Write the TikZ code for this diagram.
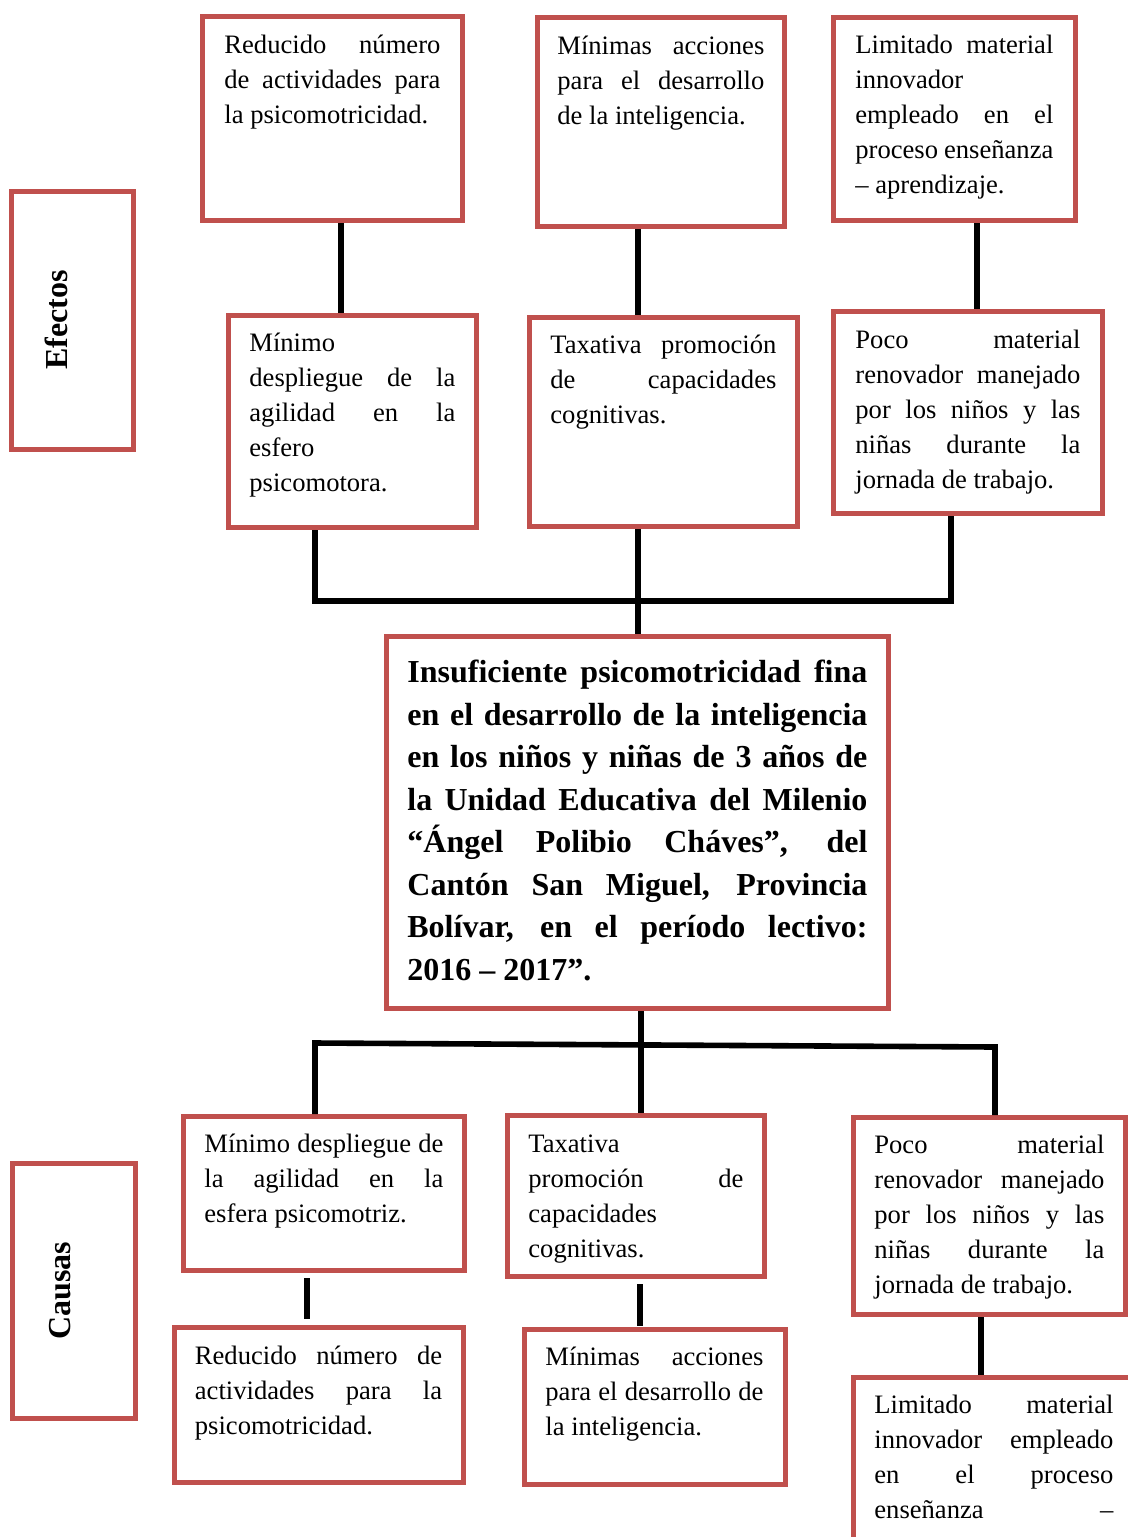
\documentclass[tikz,border=0pt]{standalone}
\usepackage{fontspec}
\setmainfont{Liberation Serif}
\definecolor{boxred}{HTML}{C0504D}
\newcommand\JL[1]{\hbox to\linewidth{#1}}
\newcommand\NL[1]{\hbox to\linewidth{#1\hfil}}
\newcommand\bodyfont{\fontsize{13.3}{17.5}\selectfont}
\newcommand\bigfont{\fontsize{16}{21.25}\selectfont\bfseries}
\begin{document}
\begin{tikzpicture}[x=0.5pt,y=-0.5pt,
  box/.style={draw=boxred, line width=2.5pt, inner sep=0pt, outer sep=0pt, anchor=north west},
  txt/.style={inner sep=0pt, anchor=base west, font=\bodyfont},
  bigtxt/.style={inner sep=0pt, anchor=base west, font=\bigfont},
  sidelabel/.style={inner sep=0pt, anchor=base, rotate=90, font=\bigfont},
  conn/.style={line width=2.8pt, black, shorten <=1.25pt, shorten >=1.25pt}]
\useasboundingbox (0,0) rectangle (1128,1537);
\clip (0,0) rectangle (1128,1537);

% side boxes
\node[box, minimum width=61pt, minimum height=129pt] (L1) at (11.5,191.5) {};
\node[sidelabel] (L1t) at (68,320) {Efectos};
\node[box, minimum width=61.5pt, minimum height=127.5pt] (L2) at (12.5,1163.5) {};
\node[sidelabel] (L2t) at (70,1290.5) {Causas};

% effects row 1
\node[box, minimum width=130pt, minimum height=102pt] (E1) at (202.5,16.5) {};
\node[txt] (E1t) at (224,53.5) {\parbox[t]{108pt}{\JL{Reducido número}\JL{de actividades para}\NL{la psicomotricidad.}}};
\node[box, minimum width=123.5pt, minimum height=104.5pt] (E2) at (537.5,17.5) {};
\node[txt] (E2t) at (557,54) {\parbox[t]{103.5pt}{\JL{Mínimas acciones}\JL{para el desarrollo}\NL{de la inteligencia.}}};
\node[box, minimum width=121pt, minimum height=101.5pt] (E3) at (833.5,17.5) {};
\node[txt] (E3t) at (855,53.5) {\parbox[t]{99pt}{\JL{Limitado material}\NL{innovador}\JL{empleado en el}\JL{proceso enseñanza}\NL{– aprendizaje.}}};

% effects row 2
\node[box, minimum width=124pt, minimum height=106pt] (E4) at (228.5,315.5) {};
\node[txt] (E4t) at (249,351) {\parbox[t]{103pt}{\NL{Mínimo}\JL{despliegue de la}\JL{agilidad en la}\NL{esfero}\NL{psicomotora.}}};
\node[box, minimum width=134pt, minimum height=104.5pt] (E5) at (529.5,317.5) {};
\node[txt] (E5t) at (550,353) {\parbox[t]{113pt}{\JL{Taxativa promoción}\JL{de capacidades}\NL{cognitivas.}}};
\node[box, minimum width=134.5pt, minimum height=101pt] (E6) at (833.5,311.5) {};
\node[txt] (E6t) at (855,348) {\parbox[t]{112.5pt}{\JL{Poco material}\JL{renovador manejado}\JL{por los niños y las}\JL{niñas durante la}\NL{jornada de trabajo.}}};

% central problem
\node[box, minimum width=251pt, minimum height=186pt] (C) at (386.5,636.5) {};
\node[bigtxt] (Ct) at (407,682.6) {\parbox[t]{230pt}{\JL{Insuficiente psicomotricidad fina}\JL{en el desarrollo de la inteligencia}\JL{en los niños y niñas de 3 años de}\JL{la Unidad Educativa del Milenio}\JL{“Ángel Polibio Cháves”, del}\JL{Cantón San Miguel, Provincia}\JL{Bolívar, en el período lectivo:}\NL{2016 – 2017”.}}};

% causes row 1
\node[box, minimum width=140.5pt, minimum height=77pt] (K1) at (183.5,1116.5) {};
\node[txt] (K1t) at (204,1152) {\parbox[t]{119.5pt}{\JL{Mínimo despliegue de}\JL{la agilidad en la}\NL{esfera psicomotriz.}}};
\node[box, minimum width=128.5pt, minimum height=80.5pt] (K3) at (507.5,1115.5) {};
\node[txt] (K3t) at (528,1152) {\parbox[t]{107.5pt}{\NL{Taxativa}\JL{promoción de}\NL{capacidades}\NL{cognitivas.}}};
\node[box, minimum width=136pt, minimum height=98.5pt] (K5) at (853.5,1117.5) {};
\node[txt] (K5t) at (874,1153.3) {\parbox[t]{115pt}{\JL{Poco material}\JL{renovador manejado}\JL{por los niños y las}\JL{niñas durante la}\NL{jornada de trabajo.}}};

% causes row 2
\node[box, minimum width=144.5pt, minimum height=77.5pt] (K2) at (174.5,1327.5) {};
\node[txt] (K2t) at (194.5,1364) {\parbox[t]{123.6pt}{\JL{Reducido número de}\JL{actividades para la}\NL{psicomotricidad.}}};
\node[box, minimum width=130.5pt, minimum height=77.5pt] (K4) at (524.5,1329.5) {};
\node[txt] (K4t) at (545,1365) {\parbox[t]{109pt}{\JL{Mínimas acciones}\JL{para el desarrollo de}\NL{la inteligencia.}}};
\node[box, minimum width=141pt, minimum height=110pt] (K6) at (853.5,1377.5) {};
\node[txt] (K6t) at (874,1413.3) {\parbox[t]{119.5pt}{\JL{Limitado material}\JL{innovador empleado}\JL{en el proceso}\JL{enseñanza –}}};

% connector guide coordinates
\coordinate (a1) at (341,0);
\coordinate (a2) at (638,0);
\coordinate (a3) at (977,0);
\coordinate (b1) at (315,601);
\coordinate (b2) at (638,601);
\coordinate (b3) at (951,601);
\coordinate (d1) at (315,1043);
\coordinate (d2) at (641,1045);
\coordinate (d3) at (995,1047);
\coordinate (e1) at (307,0);
\coordinate (e2) at (640,0);
\coordinate (e3) at (981,0);

% connectors (effects)
\draw[conn] (E1.south -| a1) -- (E4.north -| a1);
\draw[conn] (E2.south -| a2) -- (E5.north -| a2);
\draw[conn] (E3.south -| a3) -- (E6.north -| a3);
\draw[conn] (E4.south -| b1) -- (b1) -- (b3) -- (E6.south -| b3);
\draw[conn] (E5.south -| b2) -- (C.north -| b2);

% connectors (causes)
\draw[conn] (K1.north -| d1) -- (d1) -- (d3) -- (K5.north -| d3);
\draw[conn] (C.south -| d2) -- (K3.north -| d2);
\draw[conn, shorten <=3.75pt, shorten >=4.25pt] (K1.south -| e1) -- (K2.north -| e1);
\draw[conn, shorten <=3.75pt, shorten >=1.9pt] (K3.south -| e2) -- (K4.north -| e2);
\draw[conn] (K5.south -| e3) -- (K6.north -| e3);
\end{tikzpicture}
\end{document}
